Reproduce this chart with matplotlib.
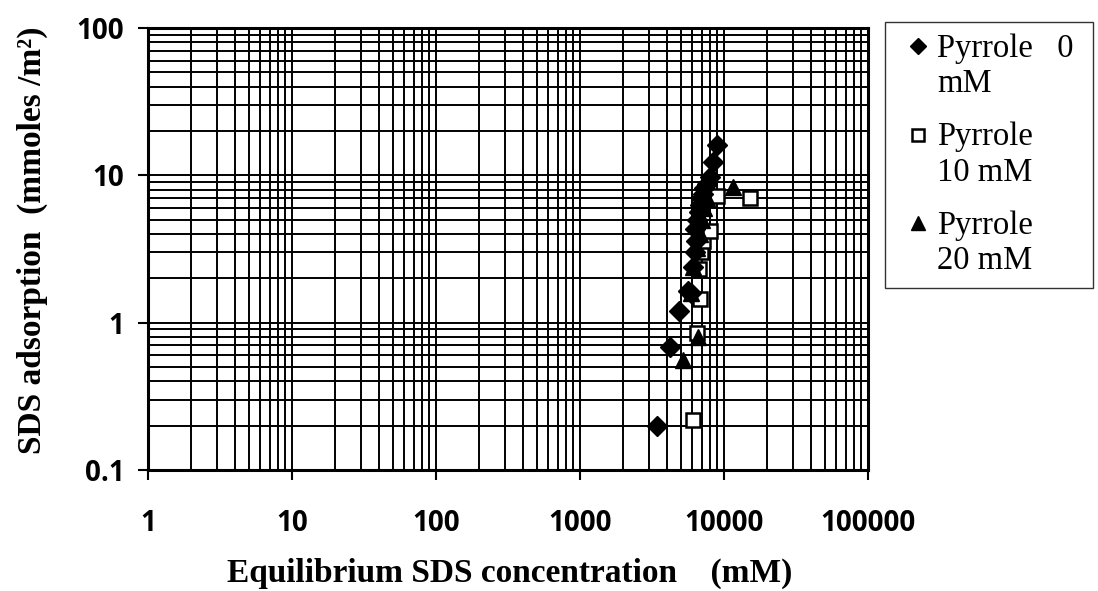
import numpy as np
import matplotlib

matplotlib.use("Agg")
import matplotlib.pyplot as plt
from matplotlib.legend_handler import HandlerLine2D
from matplotlib.ticker import LogLocator, FixedLocator, FixedFormatter, NullFormatter

# equilibrium SDS concentration (mM) and SDS adsorption (mmoles/m2)
p0_x = [3450, 4200, 4900, 5600, 5900, 6100, 6300, 6400, 6300, 6500, 6700,
        6800, 6900, 7100, 7300, 7600, 8000, 8400, 8900]
p0_y = [0.20, 0.68, 1.2, 1.65, 1.6, 2.4, 3.0, 3.6, 4.3, 5.0, 5.6,
        6.3, 7.0, 7.5, 8.2, 8.8, 9.8, 12.3, 16.0]

p10_x = [6050, 6450, 6800, 6700, 6900, 7200, 8000, 8900, 15200]
p10_y = [0.22, 0.85, 1.45, 2.3, 3.0, 3.6, 4.2, 7.2, 7.0]

p20_x = [5200, 6600, 5900, 6100, 6500, 6800, 7000, 7300, 7600, 11500]
p20_y = [0.56, 0.80, 1.6, 2.4, 3.2, 4.0, 5.0, 6.0, 7.0, 8.3]

x_ticks = [1, 10, 100, 1000, 10000, 100000]
x_labels = ["1", "10", "100", "1000", "10000", "100000"]
y_ticks = [0.1, 1, 10, 100]
y_labels = ["0.1", "1", "10", "100"]

SERIF = ["Liberation Serif", "DejaVu Serif"]
SANS = ["Open Sans", "DejaVu Sans"]
plt.rcParams["font.family"] = SERIF


class FirstLineHandler(HandlerLine2D):
    # put the marker beside the first line of a two-line label
    def create_artists(self, legend, orig_handle, xdescent, ydescent,
                       width, height, fontsize, trans):
        arts = super().create_artists(legend, orig_handle, xdescent, ydescent,
                                      width, height, fontsize, trans)
        for a in arts:
            a.set_ydata(np.asarray(a.get_ydata()) + 0.62 * fontsize)
        return arts


fig = plt.figure(figsize=(10.98, 5.91), dpi=100)
ax = fig.add_axes([148 / 1098, 1 - 470 / 591, 720 / 1098, 442 / 591])

ax.set_xscale("log")
ax.set_yscale("log")
ax.set_xlim(1, 100000)
ax.set_ylim(0.1, 100)

ax.plot(p10_x, p10_y, ls="none", marker="s", ms=10.5, mfc="white", mec="black",
        mew=1.8, label="Pyrrole\n10 mM", zorder=3)
ax.plot(p20_x, p20_y, ls="none", marker="^", ms=12, color="black",
        label="Pyrrole\n20 mM", zorder=4)
ax.plot(p0_x, p0_y, ls="none", marker="D", ms=10.5, color="black",
        label="Pyrrole   0 \nmM", zorder=5)

ax.xaxis.set_major_locator(FixedLocator(x_ticks))
ax.xaxis.set_major_formatter(FixedFormatter(x_labels))
ax.yaxis.set_major_locator(FixedLocator(y_ticks))
ax.yaxis.set_major_formatter(FixedFormatter(y_labels))
ax.xaxis.set_minor_locator(LogLocator(base=10, subs=np.arange(2, 10), numticks=20))
ax.yaxis.set_minor_locator(LogLocator(base=10, subs=np.arange(2, 10), numticks=20))
ax.xaxis.set_minor_formatter(NullFormatter())
ax.yaxis.set_minor_formatter(NullFormatter())

ax.grid(True, which="both", color="black", linewidth=1.4)
ax.set_axisbelow(True)
for spine in ax.spines.values():
    spine.set_linewidth(2.2)

ax.tick_params(which="major", direction="out", length=7, width=1.5,
               labelsize=20, labelfontfamily=SANS)
ax.tick_params(axis="x", which="major", pad=21)
ax.tick_params(axis="y", which="major", pad=10)
ax.tick_params(which="minor", length=0)
fig.canvas.draw()
for lab in ax.get_xticklabels() + ax.get_yticklabels():
    lab.set_fontweight("bold")

fig.text(510 / 1098, 1 - 582 / 591,
         "Equilibrium SDS concentration    (mM)",
         ha="center", va="baseline", fontsize=24, fontweight="bold")
fig.text(32 / 1098, 1 - 240 / 591, "SDS adsorption  (mmoles /m²)",
         rotation=90, ha="center", va="center", fontsize=24, fontweight="bold")

handles, labels = ax.get_legend_handles_labels()
order = [2, 0, 1]
leg = fig.legend([handles[i] for i in order], [labels[i] for i in order],
                 loc="upper left", bbox_to_anchor=(885 / 1098, 1 - 22 / 591),
                 fontsize=23.5, frameon=True, fancybox=False, edgecolor="black",
                 handlelength=1.3, handletextpad=-0.05, labelspacing=0.7,
                 borderpad=0.35, borderaxespad=0, markerscale=0.8,
                 handler_map={h: FirstLineHandler() for h in handles})
leg.get_frame().set_linewidth(1.0)

fig.savefig("out.png", dpi=100, facecolor="white")
